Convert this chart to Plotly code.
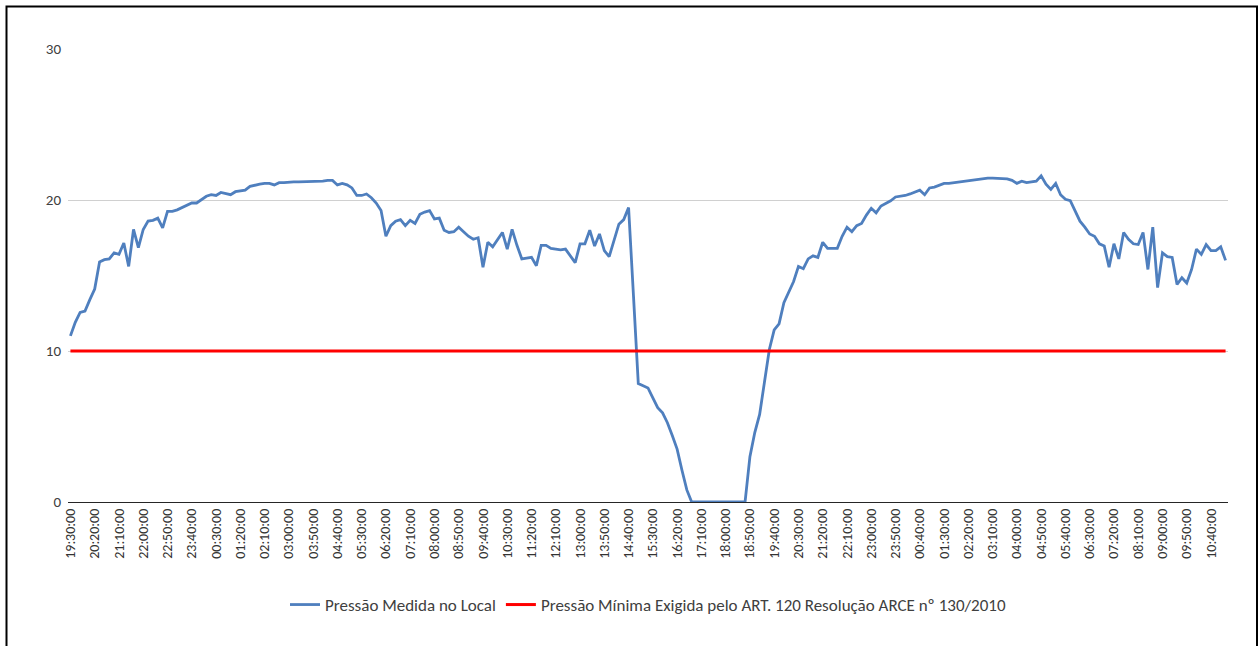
import datetime as dt
import plotly.graph_objects as go

# ---- data ----
start_time = dt.datetime(2000, 1, 1, 19, 30)
step_minutes = 10

pressao_medida = [
    11.0, 11.9, 12.55, 12.65, 13.4, 14.1, 15.9, 16.05, 16.1, 16.5,
    16.4, 17.15, 15.6, 18.05, 16.85, 18.05, 18.6, 18.65, 18.8, 18.15,
    19.25, 19.25, 19.35, 19.5, 19.7, 19.8, 19.8, 20.0, 20.25, 20.35,
    20.3, 20.5, 20.4, 20.35, 20.55, 20.6, 20.65, 20.9, 21.0, 21.05,
    21.1, 21.1, 21.0, 21.15, 21.15, 21.2, 21.2, 21.2, 21.2, 21.2,
    21.22, 21.25, 21.25, 21.3, 21.3, 21.0, 21.1, 21.0, 20.8, 20.3,
    20.3, 20.4, 20.15, 19.8, 19.3, 17.6, 18.3, 18.6, 18.7, 18.3,
    18.65, 18.45, 19.05, 19.2, 19.3, 18.75, 18.8, 18.0, 17.85, 17.9,
    18.2, 17.9, 17.6, 17.4, 17.5, 15.55, 17.2, 16.9, 17.4, 17.85,
    16.75, 18.05, 17.0, 16.1, 16.15, 16.2, 15.65, 17.0, 17.0, 16.8,
    16.75, 16.7, 16.75, 16.3, 15.85, 17.1, 17.1, 18.0, 16.95, 17.75,
    16.65, 16.25, 17.4, 18.4, 18.7, 19.5, 13.7, 7.85, 7.7, 7.55,
    6.9, 6.25, 5.9, 5.25, 4.4, 3.5, 2.1, 0.8, 0.0, 0.0,
    0.0, 0.0, 0.0, 0.0, 0.0, 0.0, 0.0, 0.0, 0.0, 0.0,
    3.0, 4.6, 5.8, 8.0, 10.1, 11.4, 11.8, 13.2, 13.9, 14.6,
    15.6, 15.45, 16.1, 16.3, 16.2, 17.2, 16.8, 16.8, 16.8, 17.6,
    18.2, 17.9, 18.3, 18.45, 19.0, 19.45, 19.15, 19.6, 19.75, 19.95,
    20.2, 20.25, 20.3, 20.4, 20.5, 20.65, 20.35, 20.8, 20.85, 20.95,
    21.1, 21.1, 21.15, 21.2, 21.2, 21.25, 21.3, 21.35, 21.4, 21.45,
    21.45, 21.45, 21.45, 21.4, 21.3, 21.1, 21.25, 21.15, 21.2, 21.25,
    21.6, 21.05, 20.7, 21.1, 20.35, 20.05, 19.95, 19.3, 18.6, 18.2,
    17.75, 17.6, 17.1, 16.95, 15.55, 17.1, 16.1, 17.85, 17.4, 17.1,
    17.05, 17.85, 15.4, 18.2, 14.2, 16.5, 16.25, 16.2, 14.4, 14.85,
    14.5, 15.4, 16.75, 16.4, 17.05, 16.65, 16.65, 16.9, 16.0,
]
pressao_minima_valor = 10

times = [start_time + dt.timedelta(minutes=step_minutes * i) for i in range(len(pressao_medida))]
pressao_minima = [pressao_minima_valor] * len(times)

nome_medida = "Pressão Medida no Local"
nome_minima = "Pressão Mínima Exigida pelo ART. 120 Resolução ARCE nº 130/2010"

# ---- figure ----
W, H = 1260, 646
plot_left, plot_right, plot_top, plot_bottom = 68, 1228, 49, 502
ml, mr, mt, mb = plot_left, W - plot_right, plot_top, H - plot_bottom
pw, ph = plot_right - plot_left, plot_bottom - plot_top

font_family = "Carlito, Lato, 'Liberation Sans', sans-serif"

fig = go.Figure()
fig.add_trace(go.Scatter(
    x=times, y=pressao_medida, mode="lines", name=nome_medida,
    line=dict(color="#4F7FBE", width=2.8),
))
fig.add_trace(go.Scatter(
    x=times, y=pressao_minima, mode="lines", name=nome_minima,
    line=dict(color="#FF0000", width=3),
))

half = dt.timedelta(minutes=step_minutes / 2)

def px_to_paper_x(px):
    return (px - ml) / pw

def px_to_paper_y(py):
    return (plot_bottom - py) / ph

fig.update_layout(
    width=W, height=H,
    margin=dict(l=ml, r=mr, t=mt, b=mb),
    paper_bgcolor="white", plot_bgcolor="white",
    font=dict(family=font_family, color="#404040"),
    showlegend=True,
    legend=dict(
        orientation="h", x=0.5, xanchor="center",
        y=px_to_paper_y(605), yanchor="middle",
        font=dict(size=17, color="#404040"),
        itemwidth=30,
    ),
    xaxis=dict(
        type="date",
        range=[times[0] - half, times[-1] + half],
        tick0=times[0], dtick=50 * 60 * 1000,
        tickformat="%H:%M:%S",
        tickangle=-90,
        tickfont=dict(size=14, color="#333333"),
        showgrid=False,
        showline=True, linecolor="#262626", linewidth=1.3,
        ticks="", zeroline=False,
    ),
    yaxis=dict(
        range=[0, 30], tickvals=[0, 10, 20, 30],
        tickfont=dict(size=15, color="#404040"),
        showgrid=True, gridcolor="#D0D0D0", gridwidth=1,
        zeroline=False, showline=False, ticks="",
        ticklabelstandoff=6,
    ),
    shapes=[dict(
        type="rect", xref="paper", yref="paper",
        x0=px_to_paper_x(6.5), x1=px_to_paper_x(1257),
        y0=px_to_paper_y(670), y1=px_to_paper_y(6.5),
        line=dict(color="black", width=2), fillcolor="rgba(0,0,0,0)",
        layer="above",
    )],
)

fig.write_html(
    "out.html",
    config={"displayModeBar": False},
    post_script="document.body.style.margin='0';document.body.style.padding='0';",
)
